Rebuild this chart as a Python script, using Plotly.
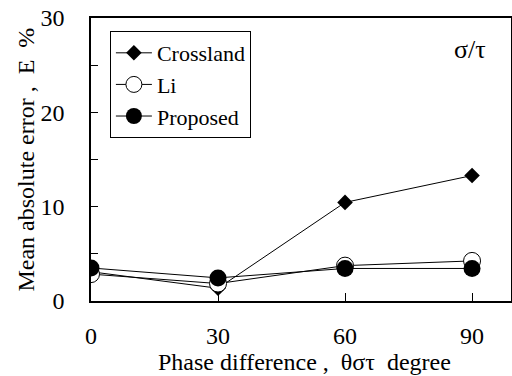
import plotly.graph_objects as go

phase = [0, 30, 60, 90]
crossland = [3.1, 1.35, 10.45, 13.3]
li = [2.85, 1.85, 3.75, 4.25]
proposed = [3.5, 2.45, 3.45, 3.45]

FONT = "Liberation Serif, Times New Roman, Times, serif"

fig = go.Figure()
fig.add_trace(go.Scatter(x=phase, y=crossland, name="Crossland", mode="lines+markers",
                         line=dict(color="black", width=1),
                         marker=dict(symbol="diamond", size=12, color="black")))
fig.add_trace(go.Scatter(x=phase, y=li, name="Li", mode="lines+markers",
                         line=dict(color="black", width=1),
                         marker=dict(symbol="circle", size=17, color="white",
                                     line=dict(color="black", width=1))))
fig.add_trace(go.Scatter(x=phase, y=proposed, name="Proposed", mode="lines+markers",
                         line=dict(color="black", width=1),
                         marker=dict(symbol="circle", size=17, color="black")))

fig.update_layout(
    width=512, height=376,
    margin=dict(l=91, r=1, t=18, b=75),
    paper_bgcolor="white", plot_bgcolor="white",
    font=dict(family=FONT, size=24, color="black"),
    showlegend=True,
    legend=dict(x=0.045, y=0.954, xanchor="left", yanchor="top",
                bordercolor="black", borderwidth=1, bgcolor="white",
                font=dict(family=FONT, size=22), tracegroupgap=0, itemwidth=36),
    xaxis=dict(range=[0, 99.2], tickvals=[0, 30, 60, 90], ticks="inside", ticklen=8,
               tickcolor="black", showline=True, linecolor="black", linewidth=1.5,
               mirror=True, showgrid=False, zeroline=False, ticklabelstandoff=12,
               automargin=False, tickfont=dict(family=FONT, size=24)),
    yaxis=dict(range=[0, 30], tickvals=[0, 10, 20, 30], ticks="inside", ticklen=7,
               tickcolor="black", showline=True, linecolor="black", linewidth=1.5,
               mirror=True, showgrid=False, zeroline=False, ticklabelstandoff=20,
               automargin=False, tickfont=dict(family=FONT, size=24),
               minor=dict(tickvals=[5, 15, 25], ticks="inside", ticklen=7, tickcolor="black")),
    annotations=[
        dict(text="σ/τ", x=0.902, y=0.887, xref="paper", yref="paper",
             xanchor="center", yanchor="middle",
             showarrow=False, font=dict(family=FONT, size=26)),
        dict(text="Phase difference ,  θστ  degree", x=0.508, y=-0.216, xref="paper", yref="paper",
             xanchor="center", yanchor="middle", showarrow=False,
             font=dict(family=FONT, size=24)),
        dict(text="Mean absolute error ,  E  %", x=-0.157, y=0.5, xref="paper", yref="paper",
             xanchor="center", yanchor="middle", textangle=-90, showarrow=False,
             font=dict(family=FONT, size=24)),
    ],
)

fig.write_html("out.html", config={"displayModeBar": False},
               post_script="document.body.style.margin='0';")
